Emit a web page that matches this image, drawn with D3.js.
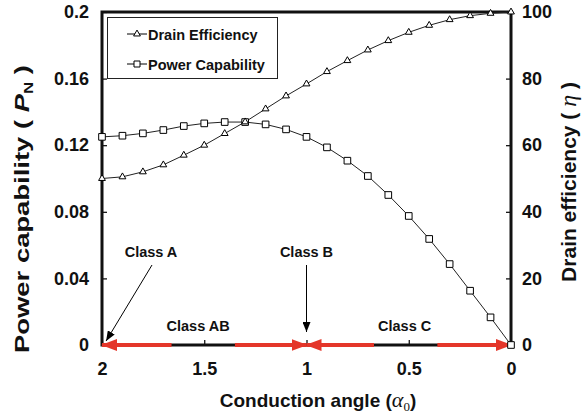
<!DOCTYPE html>
<html>
<head>
<meta charset="utf-8">
<script src="https://cdn.jsdelivr.net/npm/d3@7"></script>
<style>
  body { margin: 0; background: #fff; }
  svg { display: block; font-family: "Liberation Sans", Arial, Helvetica, sans-serif; }
</style>
</head>
<body>
<svg id="chart" width="586" height="417"></svg>
<script>
// conduction angle (units of pi)
var alpha = [2, 1.9, 1.8, 1.7, 1.6, 1.5, 1.4, 1.3, 1.2, 1.1, 1, 0.9, 0.8, 0.7, 0.6, 0.5, 0.4, 0.3, 0.2, 0.1, 0];
var efficiency = [50.0, 50.5, 52.0, 54.1, 57.0, 60.0, 63.5, 67.0, 70.9, 74.8, 78.4, 82.1, 85.4, 88.6, 91.4, 93.9, 96.0, 97.7, 98.9, 99.6, 100];
var power = [0.125, 0.1257, 0.1271, 0.1291, 0.1315, 0.1331, 0.1339, 0.1339, 0.1325, 0.1295, 0.125, 0.1187, 0.1107, 0.1015, 0.0901, 0.0775, 0.0637, 0.0486, 0.0326, 0.0166, 0];

var xTicks = [2, 1.5, 1, 0.5, 0];
var xTickLabels = ["2", "1.5", "1", "0.5", "0"];
var leftTicks = [0, 0.04, 0.08, 0.12, 0.16, 0.2];
var leftTickLabels = ["0", "0.04", "0.08", "0.12", "0.16", "0.2"];
var rightTicks = [0, 20, 40, 60, 80, 100];

// class regions along the x axis: red arrows, head at "to"
var classArrows = [
    {from: 1.66, to: 2}, {from: 1.35, to: 1},
    {from: 0.67, to: 1}, {from: 0.36, to: 0}
];
var classLabels = [
    {name: "Class AB", at: 1.53}, {name: "Class C", at: 0.52}
];

var svg = d3.select("#chart");
var pLeft = 102, pRight = 511, pTop = 12, pBottom = 345;

var x = d3.scaleLinear().domain([2, 0]).range([pLeft, pRight]);
var yL = d3.scaleLinear().domain([0, 0.2]).range([pBottom, pTop]);
var yR = d3.scaleLinear().domain([0, 100]).range([pBottom, pTop]);

var defs = svg.append("defs");
defs.append("marker")
    .attr("id", "redHead")
    .attr("viewBox", "0 -6 16 12")
    .attr("refX", 15).attr("refY", 0)
    .attr("markerUnits", "userSpaceOnUse")
    .attr("markerWidth", 16).attr("markerHeight", 12)
    .attr("orient", "auto")
    .append("path").attr("d", "M0,-6L16,0L0,6Z").attr("fill", "#e4362a");
defs.append("marker")
    .attr("id", "blackHead")
    .attr("viewBox", "0 -4 10 8")
    .attr("refX", 10).attr("refY", 0)
    .attr("markerUnits", "userSpaceOnUse")
    .attr("markerWidth", 10).attr("markerHeight", 8)
    .attr("orient", "auto")
    .append("path").attr("d", "M0,-4L10,0L0,4Z").attr("fill", "#000");

// axes
var axL = svg.append("g").attr("transform", "translate(" + pLeft + ",0)")
    .call(d3.axisLeft(yL).tickValues(leftTicks)
        .tickFormat(function (d, i) { return leftTickLabels[i]; })
        .tickSizeInner(-5).tickSizeOuter(0).tickPadding(13));
var axR = svg.append("g").attr("transform", "translate(" + pRight + ",0)")
    .call(d3.axisRight(yR).tickValues(rightTicks)
        .tickSizeInner(-5).tickSizeOuter(0).tickPadding(11));
var axB = svg.append("g").attr("transform", "translate(0," + pBottom + ")")
    .call(d3.axisBottom(x).tickValues(xTicks)
        .tickFormat(function (d, i) { return xTickLabels[i]; })
        .tickSizeInner(-5).tickSizeOuter(0).tickPadding(17));

[axL, axR, axB].forEach(function (ax) {
    ax.select(".domain").remove();
    ax.selectAll(".tick line").attr("stroke", "#000").attr("stroke-width", 1.2);
    ax.selectAll("text").attr("font-size", 18).attr("font-weight", "bold")
        .attr("font-family", "Liberation Sans, Arial, sans-serif").attr("fill", "#111");
});
axB.selectAll(".tick text").attr("dy", "0.71em");

// frame
svg.append("rect")
    .attr("x", pLeft).attr("y", pTop)
    .attr("width", pRight - pLeft).attr("height", pBottom - pTop)
    .attr("fill", "none").attr("stroke", "#111").attr("stroke-width", 3);

// legend
var legend = svg.append("g");
legend.append("rect")
    .attr("x", 107.5).attr("y", 17.5).attr("width", 170).attr("height", 61)
    .attr("fill", "#fff").attr("stroke", "#222").attr("stroke-width", 1);
var legendItems = [
    {label: "Drain Efficiency", sym: d3.symbolTriangle, size: 20, y: 34},
    {label: "Power Capability", sym: d3.symbolSquare, size: 36, y: 64}
];
legendItems.forEach(function (it) {
    legend.append("line").attr("x1", 127).attr("x2", 147).attr("y1", it.y).attr("y2", it.y)
        .attr("stroke", "#000").attr("stroke-width", 1);
    legend.append("path").attr("d", d3.symbol().type(it.sym).size(it.size)())
        .attr("transform", "translate(137," + it.y + ")")
        .attr("fill", "#fff").attr("stroke", "#000").attr("stroke-width", 1);
    legend.append("text").attr("x", 148).attr("y", it.y + 5.5)
        .attr("font-size", 14.5).attr("font-weight", "bold").attr("fill", "#111")
        .text(it.label);
});

// series lines
var lineEff = d3.line().x(function (d, i) { return x(alpha[i]); }).y(function (d) { return yR(d); });
var linePow = d3.line().x(function (d, i) { return x(alpha[i]); }).y(function (d) { return yL(d); });

svg.append("path").datum(power).attr("d", linePow)
    .attr("fill", "none").attr("stroke", "#222").attr("stroke-width", 1);
svg.append("path").datum(efficiency).attr("d", lineEff)
    .attr("fill", "none").attr("stroke", "#222").attr("stroke-width", 1);

// red class arrows along the x axis
svg.selectAll(".classArrow").data(classArrows).enter().append("line")
    .attr("class", "classArrow")
    .attr("x1", function (d) { return x(d.from); })
    .attr("x2", function (d) { return x(d.to); })
    .attr("y1", pBottom).attr("y2", pBottom)
    .attr("stroke", "#e4362a").attr("stroke-width", 4)
    .attr("marker-end", "url(#redHead)");

svg.selectAll(".sq").data(power).enter().append("path")
    .attr("class", "sq")
    .attr("d", d3.symbol().type(d3.symbolSquare).size(44)())
    .attr("transform", function (d, i) { return "translate(" + x(alpha[i]) + "," + yL(d) + ")"; })
    .attr("fill", "#fff").attr("stroke", "#000").attr("stroke-width", 1);
svg.selectAll(".tri").data(efficiency).enter().append("path")
    .attr("class", "tri")
    .attr("d", d3.symbol().type(d3.symbolTriangle).size(20)())
    .attr("transform", function (d, i) { return "translate(" + x(alpha[i]) + "," + yR(d) + ")"; })
    .attr("fill", "#fff").attr("stroke", "#000").attr("stroke-width", 1);

// class annotations
svg.selectAll(".classLabel").data(classLabels).enter().append("text")
    .attr("x", function (d) { return x(d.at); }).attr("y", 331)
    .attr("text-anchor", "middle").attr("font-size", 14.5).attr("font-weight", "bold")
    .attr("fill", "#111").text(function (d) { return d.name; });

svg.append("text").attr("x", 151).attr("y", 257).attr("text-anchor", "middle")
    .attr("font-size", 14.5).attr("font-weight", "bold").attr("fill", "#111").text("Class A");
svg.append("line").attr("x1", 152).attr("y1", 265).attr("x2", x(1.98)).attr("y2", 341)
    .attr("stroke", "#000").attr("stroke-width", 1).attr("marker-end", "url(#blackHead)");

svg.append("text").attr("x", x(1)).attr("y", 257).attr("text-anchor", "middle")
    .attr("font-size", 14.5).attr("font-weight", "bold").attr("fill", "#111").text("Class B");
svg.append("line").attr("x1", x(1)).attr("y1", 265).attr("x2", x(1)).attr("y2", 332)
    .attr("stroke", "#000").attr("stroke-width", 1).attr("marker-end", "url(#blackHead)");

// axis titles
var xt = svg.append("text").attr("x", 318).attr("y", 407)
    .attr("text-anchor", "middle").attr("font-size", 19).attr("font-weight", "bold").attr("fill", "#111");
xt.append("tspan").text("Conduction angle (");
xt.append("tspan").attr("font-family", "Liberation Serif, Times New Roman, serif")
    .attr("font-style", "italic").attr("font-weight", "normal").attr("font-size", 22).text("\u03b1");
xt.append("tspan").attr("font-family", "Liberation Serif, Times New Roman, serif")
    .attr("font-weight", "normal").attr("font-size", 13).attr("dy", 4).text("0");
xt.append("tspan").attr("dy", -4).text(")");

var yt = svg.append("text")
    .attr("transform", "translate(29,209) rotate(-90)")
    .attr("text-anchor", "middle").attr("font-size", 21).attr("font-weight", "bold").attr("fill", "#111")
    .attr("textLength", 288).attr("lengthAdjust", "spacingAndGlyphs");
yt.append("tspan").text("Power capability ( ");
yt.append("tspan").attr("font-style", "italic").text("P");
yt.append("tspan").attr("font-size", 13).attr("dy", 4).text("N");
yt.append("tspan").attr("dy", -4).text(" )");

var yr = svg.append("text")
    .attr("transform", "translate(576,182) rotate(-90)")
    .attr("text-anchor", "middle").attr("font-size", 21).attr("font-weight", "bold").attr("fill", "#111");
yr.append("tspan").text("Drain efficiency ( ");
yr.append("tspan").attr("font-family", "Liberation Serif, Times New Roman, serif")
    .attr("font-style", "italic").attr("font-weight", "normal").attr("font-size", 24).text("\u03b7");
yr.append("tspan").text(" )");
</script>
</body>
</html>
